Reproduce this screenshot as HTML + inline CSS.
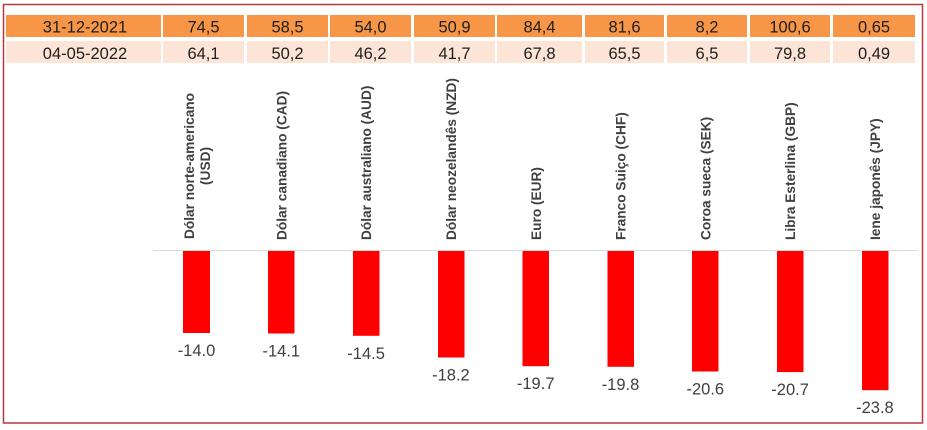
<!DOCTYPE html>
<html>
<head>
<meta charset="utf-8">
<style>
html,body{margin:0;padding:0;background:#fff;}
svg{display:block;}
text{font-family:"Liberation Sans",Arial,sans-serif;}
</style>
</head>
<body>
<svg width="927" height="430" viewBox="0 0 927 430" xmlns="http://www.w3.org/2000/svg">
<rect x="0" y="0" width="927" height="430" fill="#fff"/>
<rect x="3.5" y="4.5" width="919" height="418.5" fill="none" stroke="#b8393c" stroke-width="1.5"/>

<!-- table rows -->
<g fill="#f79646">
<rect x="6" y="15" width="155" height="22"/>
<rect x="163" y="15" width="81" height="22"/>
<rect x="247" y="15" width="81" height="22"/>
<rect x="330" y="15" width="81" height="22"/>
<rect x="414" y="15" width="81" height="22"/>
<rect x="497" y="15" width="85" height="22"/>
<rect x="585" y="15" width="79" height="22"/>
<rect x="667" y="15" width="80" height="22"/>
<rect x="750" y="15" width="80" height="22"/>
<rect x="833" y="15" width="82" height="22"/>
</g>
<g fill="#fce4d6">
<rect x="6" y="41" width="155" height="22"/>
<rect x="163" y="41" width="81" height="22"/>
<rect x="247" y="41" width="81" height="22"/>
<rect x="330" y="41" width="81" height="22"/>
<rect x="414" y="41" width="81" height="22"/>
<rect x="497" y="41" width="85" height="22"/>
<rect x="585" y="41" width="79" height="22"/>
<rect x="667" y="41" width="80" height="22"/>
<rect x="750" y="41" width="80" height="22"/>
<rect x="833" y="41" width="82" height="22"/>
</g>
<g font-size="16.5" fill="#1e1e1e" text-anchor="middle">
<text x="85" y="32.5">31-12-2021</text>
<text x="203.5" y="32.5">74,5</text>
<text x="287.5" y="32.5">58,5</text>
<text x="370.5" y="32.5">54,0</text>
<text x="454.5" y="32.5">50,9</text>
<text x="539.5" y="32.5">84,4</text>
<text x="624.5" y="32.5">81,6</text>
<text x="707" y="32.5">8,2</text>
<text x="790" y="32.5">100,6</text>
<text x="874" y="32.5">0,65</text>
<text x="85" y="59">04-05-2022</text>
<text x="203.5" y="59">64,1</text>
<text x="287.5" y="59">50,2</text>
<text x="370.5" y="59">46,2</text>
<text x="454.5" y="59">41,7</text>
<text x="539.5" y="59">67,8</text>
<text x="624.5" y="59">65,5</text>
<text x="707" y="59">6,5</text>
<text x="790" y="59">79,8</text>
<text x="874" y="59">0,49</text>
</g>

<!-- rotated category labels -->
<g font-size="13.7" font-weight="bold" fill="#404040">
<text transform="translate(194,166) rotate(-90)" text-anchor="middle">Dólar norte-americano</text>
<text transform="translate(210,166) rotate(-90)" text-anchor="middle">(USD)</text>
<text transform="translate(286.5,240) rotate(-90)">Dólar canadiano (CAD)</text>
<text transform="translate(371,240) rotate(-90)">Dólar australiano (AUD)</text>
<text transform="translate(456,240) rotate(-90)">Dólar neozelandês (NZD)</text>
<text transform="translate(541,240) rotate(-90)">Euro (EUR)</text>
<text transform="translate(625.5,240) rotate(-90)">Franco Suiço (CHF)</text>
<text transform="translate(710.5,240) rotate(-90)">Coroa sueca (SEK)</text>
<text transform="translate(795,240) rotate(-90)">Libra Esterlina (GBP)</text>
<text transform="translate(880,240) rotate(-90)">Iene japonês (JPY)</text>
</g>

<!-- axis line -->
<line x1="153" y1="250.5" x2="917" y2="250.5" stroke="#d9d9d9" stroke-width="1"/>

<!-- bars -->
<g fill="#ff0000">
<rect x="183" y="251" width="27" height="82"/>
<rect x="268" y="251" width="26.5" height="82.5"/>
<rect x="353" y="251" width="26.5" height="84.8"/>
<rect x="438" y="251" width="26.5" height="106.5"/>
<rect x="522.5" y="251" width="26.5" height="115.2"/>
<rect x="607.5" y="251" width="26.5" height="115.8"/>
<rect x="692" y="251" width="26.5" height="120.5"/>
<rect x="777" y="251" width="26.5" height="121.1"/>
<rect x="862" y="251" width="26.5" height="139.2"/>
</g>

<!-- data labels -->
<g font-size="16.5" fill="#404040" text-anchor="middle">
<text x="196.5" y="356">-14.0</text>
<text x="281.3" y="356.5">-14.1</text>
<text x="366.1" y="358.8">-14.5</text>
<text x="450.9" y="380.5">-18.2</text>
<text x="535.7" y="389.2">-19.7</text>
<text x="620.5" y="389.8">-19.8</text>
<text x="705.3" y="394.5">-20.6</text>
<text x="790.1" y="395.1">-20.7</text>
<text x="874.9" y="413.2">-23.8</text>
</g>
</svg>
</body>
</html>
